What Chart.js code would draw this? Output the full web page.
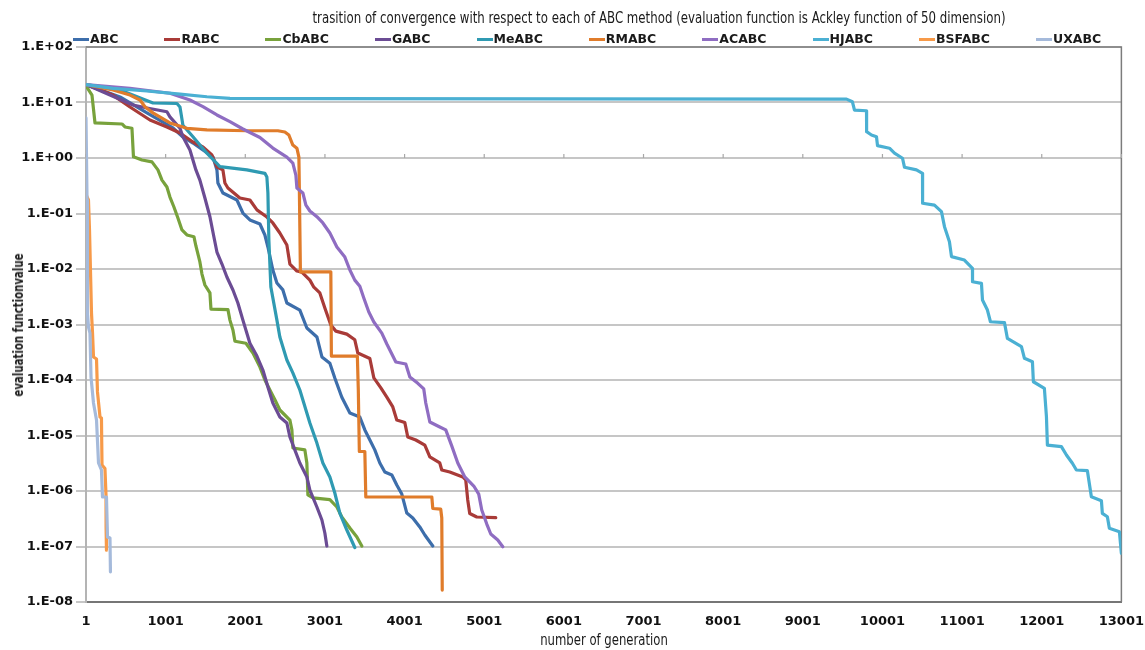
<!DOCTYPE html>
<html>
<head>
<meta charset="utf-8">
<script src="https://cdn.jsdelivr.net/npm/chart.js@4.4.1/dist/chart.umd.min.js"></script>
<style>
  html, body { margin: 0; padding: 0; background: #ffffff; }
  #wrap { position: relative; width: 1145px; height: 650px; overflow: hidden; }
  #chart { position: absolute; left: 0; top: 0; }
  .label {
    position: absolute; white-space: nowrap; color: #1a1a1a;
    font-family: 'Liberation Sans Narrow', 'DejaVu Sans Condensed', sans-serif;
  }
  #title { top: 9px; left: 659px; font-size: 15px; line-height: 18px; transform: translateX(-50%) scaleX(0.874); }
  #xtitle { top: 631px; left: 604px; font-size: 15px; line-height: 18px; transform: translateX(-50%) scaleX(0.865); }
  #ytitle { top: 325px; left: 18px; font-size: 14px; line-height: 16px; font-weight: bold;
            transform: translate(-50%, -50%) rotate(-90deg) scaleX(0.81); }
  #legend {
    position: absolute; top: 31px; left: 73px; display: flex; column-gap: 46px;
    font: bold 12.5px/16px 'DejaVu Sans', sans-serif; color: #1a1a1a;
  }
  #legend .item { display: flex; align-items: center; white-space: nowrap; }
  #legend .swatch { display: inline-block; width: 16px; height: 3px; margin-right: 1px; }
</style>
</head>
<body>
<div id="wrap">
  <canvas id="chart" width="1145" height="650"></canvas>
  <div id="title" class="label">trasition of convergence with respect to each of ABC method (evaluation function is Ackley function of 50 dimension)</div>
  <div id="xtitle" class="label">number of generation</div>
  <div id="ytitle" class="label">evaluation functionvalue</div>
  <div id="legend"></div>
</div>
<script>
// Axis ticks
const xTickValues = [1, 1001, 2001, 3001, 4001, 5001, 6001, 7001, 8001, 9001, 10001, 11001, 12001, 13001];
const xTickLabels = ['1', '1001', '2001', '3001', '4001', '5001', '6001', '7001', '8001', '9001', '10001', '11001', '12001', '13001'];
const yTickValues = [1e-8, 1e-7, 1e-6, 1e-5, 1e-4, 1e-3, 1e-2, 1e-1, 1e0, 1e1, 1e2];
const yTickLabels = ['1.E-08', '1.E-07', '1.E-06', '1.E-05', '1.E-04', '1.E-03', '1.E-02', '1.E-01', '1.E+00', '1.E+01', '1.E+02'];

// Best evaluation value per generation for each method
const abcGen = [1, 428, 766, 1093, 1218, 1344, 1469, 1595, 1645, 1657, 1720, 1896, 1971, 2059, 2185, 2247, 2285, 2347, 2398, 2473, 2523, 2686, 2774, 2900, 2963, 3063, 3125, 3213, 3314, 3439, 3502, 3565, 3627, 3690, 3753, 3841, 3903, 3966, 4029, 4104, 4192, 4255, 4355];
const abcVal = [21, 12.6, 6.5, 3.48, 2.39, 1.86, 1.39, 1.04, 0.61, 0.355, 0.234, 0.175, 0.102, 0.0764, 0.0647, 0.041, 0.0249, 0.0096, 0.0056, 0.0042, 0.00244, 0.00182, 8.65e-4, 5.96e-4, 2.6e-4, 2.0e-4, 1.09e-4, 4.9e-5, 2.54e-5, 2.15e-5, 1.26e-5, 8.3e-6, 5.5e-6, 3.2e-6, 2.2e-6, 1.94e-6, 1.28e-6, 8.8e-7, 4.0e-7, 3.27e-7, 2.25e-7, 1.61e-7, 1.02e-7];

const rabcGen = [1, 340, 553, 804, 1017, 1181, 1344, 1469, 1582, 1645, 1720, 1745, 1783, 1933, 2059, 2147, 2272, 2347, 2435, 2523, 2561, 2649, 2711, 2812, 2862, 2937, 3000, 3075, 3138, 3276, 3376, 3414, 3565, 3615, 3703, 3778, 3853, 3903, 4004, 4041, 4142, 4255, 4318, 4443, 4468, 4568, 4732, 4769, 4794, 4819, 4907, 5146];
const rabcVal = [21, 13.6, 8.3, 4.84, 3.62, 2.82, 1.94, 1.58, 1.13, 0.69, 0.61, 0.355, 0.288, 0.19, 0.175, 0.116, 0.0865, 0.0675, 0.0446, 0.027, 0.0123, 0.0092, 0.0088, 0.0063, 0.0047, 0.0037, 0.00198, 9.8e-4, 7.6e-4, 6.7e-4, 5.3e-4, 3.06e-4, 2.44e-4, 1.09e-4, 7.2e-5, 4.9e-5, 3.27e-5, 1.9e-5, 1.71e-5, 9.4e-6, 8.3e-6, 6.7e-6, 4.1e-6, 3.2e-6, 2.39e-6, 2.2e-6, 1.79e-6, 1.58e-6, 6.9e-7, 3.94e-7, 3.4e-7, 3.3e-7];

const cbabcGen = [1, 76, 114, 453, 490, 578, 597, 704, 829, 904, 955, 1017, 1055, 1105, 1155, 1206, 1268, 1356, 1381, 1431, 1457, 1494, 1557, 1570, 1783, 1808, 1846, 1871, 2009, 2097, 2185, 2247, 2310, 2373, 2435, 2485, 2561, 2586, 2599, 2749, 2774, 2787, 2850, 3063, 3151, 3213, 3314, 3402, 3464];
const cbabcVal = [20, 13.6, 4.28, 4.1, 3.62, 3.43, 1.05, 0.92, 0.85, 0.61, 0.40, 0.30, 0.198, 0.131, 0.083, 0.0505, 0.041, 0.0382, 0.026, 0.0134, 0.0081, 0.00515, 0.0037, 0.0019, 0.00186, 0.0012, 7.96e-4, 5.0e-4, 4.6e-4, 3.06e-4, 1.71e-4, 1.0e-4, 6.6e-5, 4.4e-5, 2.88e-5, 2.44e-5, 1.9e-5, 1.26e-5, 5.95e-6, 5.5e-6, 3.2e-6, 8.5e-7, 7.5e-7, 7.0e-7, 5.15e-7, 3.4e-7, 2.15e-7, 1.48e-7, 1.02e-7];

const gabcGen = [1, 302, 591, 766, 1017, 1055, 1181, 1218, 1306, 1381, 1431, 1494, 1557, 1607, 1645, 1708, 1770, 1846, 1908, 1971, 2059, 2147, 2222, 2285, 2347, 2435, 2523, 2561, 2623, 2686, 2774, 2812, 2900, 2963, 3000, 3025];
const gabcVal = [21, 13.6, 9.0, 7.96, 6.8, 5.5, 3.43, 2.42, 1.39, 0.61, 0.40, 0.19, 0.0875, 0.0377, 0.0202, 0.0123, 0.00718, 0.00419, 0.00244, 0.0012, 4.6e-4, 2.7e-4, 1.51e-4, 7.5e-5, 3.85e-5, 2.15e-5, 1.68e-5, 9.4e-6, 5.5e-6, 3.2e-6, 1.79e-6, 1.04e-6, 5.15e-7, 3.0e-7, 1.75e-7, 1.02e-7];

const meabcGen = [1, 428, 842, 1143, 1181, 1218, 1344, 1519, 1682, 2021, 2247, 2272, 2285, 2297, 2322, 2398, 2435, 2523, 2598, 2686, 2812, 2900, 2975, 3063, 3125, 3188, 3276, 3376];
const meabcVal = [21, 16.8, 9.8, 9.6, 8.3, 3.9, 2.42, 1.22, 0.70, 0.61, 0.53, 0.455, 0.234, 0.0334, 0.00474, 0.0012, 5.96e-4, 2.29e-4, 1.34e-4, 6.6e-5, 1.68e-5, 7.3e-6, 3.2e-6, 1.79e-6, 9.2e-7, 4.0e-7, 1.98e-7, 9.6e-8];

const rmabcGen = [1, 340, 553, 679, 741, 842, 1055, 1268, 1519, 2021, 2410, 2498, 2548, 2598, 2649, 2674, 2680, 2693, 3075, 3082, 3408, 3420, 3433, 3502, 3514, 4343, 4355, 4455, 4468, 4474];
const rmabcVal = [21, 16.8, 13.6, 11.1, 8.4, 6.5, 4.28, 3.43, 3.2, 3.1, 3.1, 2.94, 2.6, 1.71, 1.5, 1.04, 0.265, 0.0089, 0.0089, 2.7e-4, 2.7e-4, 6.6e-5, 5.15e-6, 5.15e-6, 7.8e-7, 7.8e-7, 4.84e-7, 4.7e-7, 3.27e-7, 1.64e-8];

const acabcGen = [1, 553, 1055, 1306, 1469, 1645, 1808, 1971, 2185, 2347, 2523, 2598, 2636, 2649, 2724, 2762, 2812, 2900, 2975, 3063, 3151, 3251, 3314, 3376, 3439, 3489, 3552, 3615, 3715, 3778, 3841, 3891, 4016, 4067, 4167, 4242, 4267, 4318, 4443, 4518, 4593, 4669, 4757, 4870, 4932, 4970, 5033, 5083, 5171, 5234];
const acabcVal = [21, 18.0, 14.7, 11.1, 8.4, 5.96, 4.51, 3.33, 2.34, 1.51, 1.04, 0.81, 0.49, 0.288, 0.234, 0.142, 0.111, 0.0875, 0.0675, 0.0446, 0.0249, 0.0164, 0.0096, 0.0063, 0.0049, 0.003, 0.00168, 0.00111, 7.0e-4, 4.46e-4, 2.94e-4, 2.11e-4, 1.94e-4, 1.13e-4, 8.7e-5, 6.9e-5, 3.85e-5, 1.75e-5, 1.42e-5, 1.26e-5, 6.5e-6, 3.2e-6, 1.79e-6, 1.23e-6, 8.8e-7, 4.55e-7, 2.54e-7, 1.68e-7, 1.31e-7, 9.9e-8];

const hjabcGen = [1, 340, 766, 1181, 1519, 1808, 3000, 6000, 9550, 9624, 9650, 9801, 9802, 9863, 9926, 9939, 10089, 10152, 10253, 10278, 10428, 10504, 10505, 10654, 10742, 10780, 10842, 10868, 11030, 11131, 11132, 11244, 11257, 11319, 11357, 11533, 11570, 11746, 11784, 11884, 11896, 12034, 12060, 12072, 12248, 12311, 12386, 12436, 12574, 12624, 12750, 12762, 12825, 12850, 12976, 13001];
const hjabcVal = [21, 18.0, 16.1, 14.2, 12.7, 11.9, 11.7, 11.6, 11.5, 10.3, 7.3, 7.1, 2.98, 2.6, 2.42, 1.67, 1.50, 1.22, 0.99, 0.68, 0.61, 0.53, 0.153, 0.142, 0.108, 0.058, 0.031, 0.0167, 0.0145, 0.0103, 0.0059, 0.0055, 0.00276, 0.00182, 0.00112, 0.00108, 5.6e-4, 4.0e-4, 2.46e-4, 2.14e-4, 9.3e-5, 7.1e-5, 2.18e-5, 6.7e-6, 6.3e-6, 4.45e-6, 3.16e-6, 2.39e-6, 2.32e-6, 7.9e-7, 6.7e-7, 3.96e-7, 3.44e-7, 2.13e-7, 1.85e-7, 7.5e-8];

const bsfabcGen = [1, 32, 45, 57, 70, 83, 95, 133, 145, 177, 195, 202, 239, 252, 253, 258];
const bsfabcVal = [0.22, 0.175, 0.0505, 0.0096, 0.00161, 7.0e-4, 2.6e-4, 2.39e-4, 6.1e-5, 2.15e-5, 2.06e-5, 2.94e-6, 2.54e-6, 8.5e-7, 2.25e-7, 8.6e-8];

const uxabcGen = [1, 14, 20, 32, 51, 64, 95, 133, 158, 195, 208, 258, 271, 302, 308];
const uxabcVal = [5.3, 0.175, 0.00161, 9.0e-4, 7.0e-4, 1.13e-4, 3.85e-5, 1.9e-5, 3.2e-6, 2.39e-6, 7.8e-7, 7.8e-7, 1.48e-7, 1.42e-7, 3.5e-8];

const seriesNames = ['ABC', 'RABC', 'CbABC', 'GABC', 'MeABC', 'RMABC', 'ACABC', 'HJABC', 'BSFABC', 'UXABC'];
const seriesColors = ['#3D6EAB', '#A93B38', '#78A23C', '#6B4C94', '#2F9AB2', '#E07C2B', '#8F6DC2', '#4BB0D3', '#F79A49', '#A5BADB'];
const seriesGens = [abcGen, rabcGen, cbabcGen, gabcGen, meabcGen, rmabcGen, acabcGen, hjabcGen, bsfabcGen, uxabcGen];
const seriesVals = [abcVal, rabcVal, cbabcVal, gabcVal, meabcVal, rmabcVal, acabcVal, hjabcVal, bsfabcVal, uxabcVal];

const toPoints = (gens, vals) => gens.map((g, i) => ({ x: g, y: vals[i] }));

const datasets = seriesNames.map((name, i) => ({
  label: name,
  data: toPoints(seriesGens[i], seriesVals[i]),
  borderColor: seriesColors[i],
  backgroundColor: seriesColors[i],
  borderWidth: 3.2,
  pointRadius: 0,
  tension: 0,
  fill: false,
  // later series are painted over earlier ones
  order: seriesNames.length - i
}));

const tickFont = { family: "'DejaVu Sans', sans-serif", size: 13, weight: 'bold' };

// Outline of the plot area (top and right edges) and the small marks on the
// horizontal axis, which crosses the value axis at 1.
const plotFrame = {
  id: 'plotFrame',
  beforeDatasetsDraw(chart) {
    const { ctx, chartArea: a, scales: { x, y } } = chart;
    ctx.save();
    ctx.strokeStyle = '#7c7c7c';
    ctx.lineWidth = 1.5;
    ctx.beginPath();
    ctx.moveTo(a.left, a.top);
    ctx.lineTo(a.right, a.top);
    ctx.lineTo(a.right, a.bottom);
    ctx.stroke();
    const yCross = y.getPixelForValue(1);
    ctx.strokeStyle = '#a8a8a8';
    ctx.lineWidth = 1.2;
    x.ticks.forEach(t => {
      const px = x.getPixelForValue(t.value);
      ctx.beginPath();
      ctx.moveTo(px, yCross);
      ctx.lineTo(px, yCross - 4);
      ctx.stroke();
    });
    ctx.restore();
  }
};

const chart = new Chart(document.getElementById('chart'), {
  type: 'line',
  data: { datasets },
  plugins: [plotFrame],
  options: {
    responsive: false,
    animation: false,
    layout: { padding: { top: 47, right: 23, bottom: 0, left: 0 } },
    plugins: {
      legend: { display: false },
      title: { display: false },
      tooltip: { enabled: false }
    },
    elements: { line: { borderJoinStyle: 'round', borderCapStyle: 'round' } },
    scales: {
      x: {
        type: 'linear',
        min: 1,
        max: 13001,
        afterBuildTicks: s => { s.ticks = xTickValues.map(v => ({ value: v })); },
        afterFit: s => { s.height = 48; },
        ticks: {
          autoSkip: false, maxRotation: 0, padding: 1, color: '#111111', font: tickFont,
          callback: (v, i) => xTickLabels[i]
        },
        // no visible grid; the tick length only spaces the labels below the axis
        grid: { display: false, drawTicks: true, tickLength: 11 },
        border: { display: true, color: '#767676', width: 2 }
      },
      y: {
        type: 'logarithmic',
        min: 1e-8,
        max: 100,
        afterBuildTicks: s => { s.ticks = yTickValues.map(v => ({ value: v })); },
        afterFit: s => { s.width = 86; },
        ticks: {
          autoSkip: false, padding: 3, color: '#111111', font: tickFont,
          callback: (v, i) => yTickLabels[i]
        },
        grid: { color: '#C6C6C6', lineWidth: 2, drawTicks: true, tickLength: 10 },
        border: { display: true, color: '#B4B4B4', width: 2 }
      }
    }
  }
});

// Legend row built from the chart's datasets
const legendBox = document.getElementById('legend');
chart.data.datasets.forEach(ds => {
  const item = document.createElement('span');
  item.className = 'item';
  const sw = document.createElement('span');
  sw.className = 'swatch';
  sw.style.background = ds.borderColor;
  const txt = document.createElement('span');
  txt.textContent = ds.label;
  item.appendChild(sw);
  item.appendChild(txt);
  legendBox.appendChild(item);
});
</script>
</body>
</html>
